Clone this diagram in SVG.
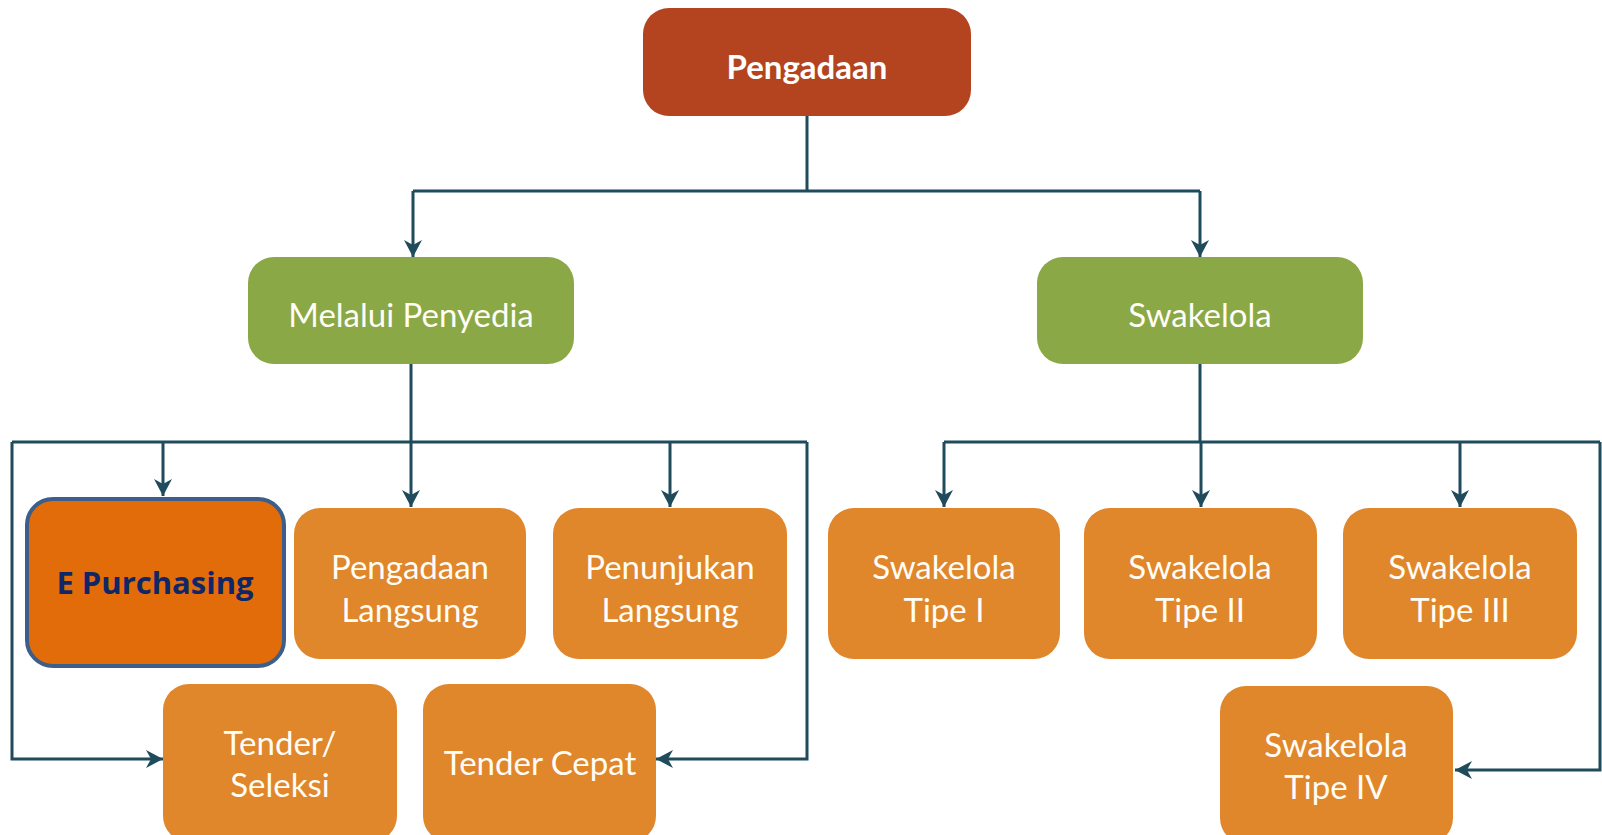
<svg xmlns="http://www.w3.org/2000/svg" width="1602" height="835" viewBox="0 0 1602 835">
<style>
.root{fill:#b4441f}
.green{fill:#8aa845}
.orange{fill:#e0862b}
.epur{fill:#e36c0a;stroke:#3b5e8b;stroke-width:4}
.t{font-family:Lato,"Open Sans","Liberation Sans",sans-serif;font-size:33px;font-weight:400;fill:#fffdf6;text-anchor:middle}
.tb{font-family:Lato,"Open Sans","Liberation Sans",sans-serif;font-size:33px;font-weight:700;fill:#ffffff;text-anchor:middle}
.te{font-family:"Open Sans","Liberation Sans",sans-serif;font-size:31px;font-weight:700;fill:#0f2766;text-anchor:middle}
.c{fill:none;stroke:#1f4b5c;stroke-width:3}
.a{marker-end:url(#arr)}
</style>
<defs>
<marker id="arr" markerUnits="userSpaceOnUse" markerWidth="20" markerHeight="20" viewBox="-18 -10 20 20" refX="0" refY="0" orient="auto">
<path d="M0,0 L-17,-9 L-12,0 L-17,9 Z" fill="#1f4b5c"/>
</marker>
</defs>
<g id="connectors">
<path class="c" d="M807,116 V191"/>
<path class="c" d="M413,191 H1200"/>
<path class="c a" d="M413,191 V257"/>
<path class="c a" d="M1200,191 V257"/>
<path class="c" d="M411,364 V442"/>
<path class="c" d="M12,442 H807"/>
<path class="c a" d="M163,442 V496"/>
<path class="c a" d="M411,442 V507"/>
<path class="c a" d="M670,442 V507"/>
<path class="c a" d="M12,442 V759 H163"/>
<path class="c a" d="M807,442 V759 H656"/>
<path class="c" d="M1200,364 V442"/>
<path class="c" d="M944,442 H1600"/>
<path class="c a" d="M944,442 V507"/>
<path class="c a" d="M1201,442 V507"/>
<path class="c a" d="M1460,442 V507"/>
<path class="c a" d="M1600,442 V770 H1455"/>
</g>
<g id="n-pengadaan">
<rect class="root" x="643" y="8" width="328" height="108" rx="26"/>
<text class="tb" x="807" y="79">Pengadaan</text>
</g>
<g id="n-melalui">
<rect class="green" x="248" y="257" width="326" height="107" rx="26"/>
<text class="t" x="411" y="327">Melalui Penyedia</text>
</g>
<g id="n-swakelola">
<rect class="green" x="1037" y="257" width="326" height="107" rx="26"/>
<text class="t" x="1200" y="327">Swakelola</text>
</g>
<g id="n-epurchasing">
<rect class="epur" x="27" y="499" width="257" height="167" rx="26"/>
<text class="te" x="155" y="594">E Purchasing</text>
</g>
<g id="n-pengadaan-langsung">
<rect class="orange" x="294" y="508" width="232" height="151" rx="26"/>
<text class="t" x="410" y="579">Pengadaan</text>
<text class="t" x="410" y="622">Langsung</text>
</g>
<g id="n-penunjukan-langsung">
<rect class="orange" x="553" y="508" width="234" height="151" rx="26"/>
<text class="t" x="670" y="579">Penunjukan</text>
<text class="t" x="670" y="622">Langsung</text>
</g>
<g id="n-tender-seleksi">
<rect class="orange" x="163" y="684" width="234" height="158" rx="26"/>
<text class="t" x="280" y="755">Tender/</text>
<text class="t" x="280" y="797">Seleksi</text>
</g>
<g id="n-tender-cepat">
<rect class="orange" x="423" y="684" width="233" height="158" rx="26"/>
<text class="t" x="540" y="775">Tender Cepat</text>
</g>
<g id="n-tipe1">
<rect class="orange" x="828" y="508" width="232" height="151" rx="26"/>
<text class="t" x="944" y="579">Swakelola</text>
<text class="t" x="944" y="622">Tipe I</text>
</g>
<g id="n-tipe2">
<rect class="orange" x="1084" y="508" width="233" height="151" rx="26"/>
<text class="t" x="1200" y="579">Swakelola</text>
<text class="t" x="1200" y="622">Tipe II</text>
</g>
<g id="n-tipe3">
<rect class="orange" x="1343" y="508" width="234" height="151" rx="26"/>
<text class="t" x="1460" y="579">Swakelola</text>
<text class="t" x="1460" y="622">Tipe III</text>
</g>
<g id="n-tipe4">
<rect class="orange" x="1220" y="686" width="233" height="158" rx="26"/>
<text class="t" x="1336" y="757">Swakelola</text>
<text class="t" x="1336" y="799">Tipe IV</text>
</g>
</svg>
